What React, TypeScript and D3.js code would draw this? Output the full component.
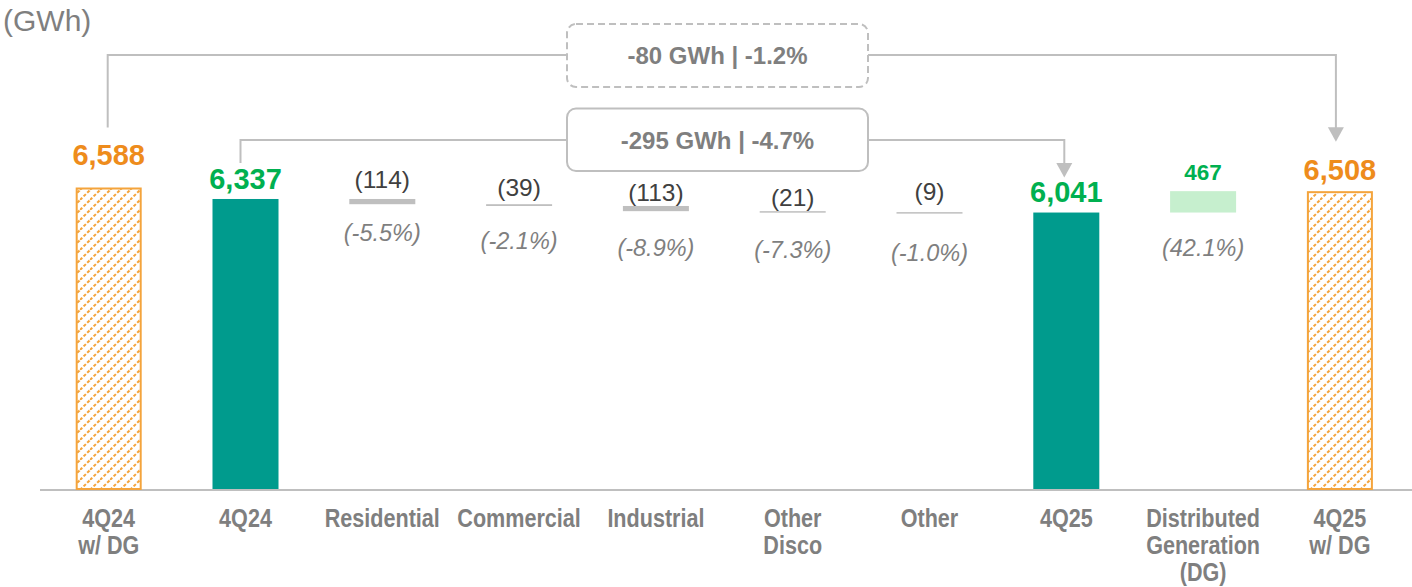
import React from "react";
import * as d3 from "d3";

// Energy bridge, 4Q24 -> 4Q25 (GWh)
const categoryLines: string[][] = [
  ["4Q24", "w/ DG"],
  ["4Q24"],
  ["Residential"],
  ["Commercial"],
  ["Industrial"],
  ["Other", "Disco"],
  ["Other"],
  ["4Q25"],
  ["Distributed", "Generation", "(DG)"],
  ["4Q25", "w/ DG"],
];

// "withDG" = total incl. distributed generation, "total" = billed total,
// "delta" = segment change, "gain" = distributed generation add-on
const barKinds = ["withDG", "total", "delta", "delta", "delta", "delta", "delta", "total", "gain", "withDG"];

const barValues = [6588, 6337, -114, -39, -113, -21, -9, 6041, 467, 6508];

const pctLabels: (string | null)[] = [null, null, "(-5.5%)", "(-2.1%)", "(-8.9%)", "(-7.3%)", "(-1.0%)", null, "(42.1%)", null];

const bridgeTotal = { text: "-295 GWh | -4.7%", from: 1, to: 7 };
const bridgeWithDG = { text: "-80 GWh | -1.2%", from: 0, to: 9 };

// small hand placement of labels (px)
const valueLabelGap = [23, 10, 10.5, 8, 4.5, 5, 12.5, 11, 11.5, 11.5];
const pctLabelGap = [0, 0, 37, 43, 45, 45.5, 47, 0, 43, 0];
const connectorNudge = [-1, -5, 0, 0, 0, 0, 0, -2, 0, -4];

const W = 1412;
const H = 587;
const BASE_Y = 489;

const C = {
  teal: "#009B8D",
  orangeText: "#EE8C1C",
  orange: "#F4A43C",
  green: "#00B050",
  lightGreen: "#C6EFCE",
  delta: "#BFBFBF",
  axis: "#BFBFBF",
  grayText: "#7F7F7F",
  darkText: "#404040",
  connector: "#BFBFBF",
};

const FONT = "'Liberation Sans', Arial, Helvetica, sans-serif";
const NARROW = 0.83;

export default function App() {
  const ids = barValues.map((_, i) => String(i));
  const x = d3
    .scaleBand<string>()
    .domain(ids)
    .range([40.3, 1408.3])
    .paddingInner(0.5175)
    .paddingOuter(0.25875);
  const y = d3.scaleLinear().domain([0, 7000]).range([BASE_Y, BASE_Y - (301.5 / 6588) * 7000]);
  const bw = x.bandwidth();
  const cx = (i: number) => (x(String(i)) as number) + bw / 2;

  // running level for floating bars
  let level = 0;
  const bars = barValues.map((v, i) => {
    const kind = barKinds[i];
    let lo: number, hi: number;
    if (kind === "delta" || kind === "gain") {
      const start = level;
      const end = level + v;
      lo = Math.min(start, end);
      hi = Math.max(start, end);
      level = end;
    } else {
      lo = 0;
      hi = v;
      level = v;
    }
    const yTop = y(hi);
    const yBot = y(lo);
    const h = Math.max(yBot - yTop, 1.5);
    return { i, v, kind, yTop, yBot: yTop + h, h };
  });

  const fmt = d3.format(",");
  const labelText = (v: number, kind: string) => (kind === "delta" ? `(${Math.abs(v)})` : fmt(v));

  const arrowHead = (xTip: number, yTip: number) =>
    `M${xTip - 8},${yTip - 14.5} L${xTip + 8},${yTip - 14.5} L${xTip},${yTip} Z`;

  const boxX0 = 567;
  const boxX1 = 868;
  const boxCx = (boxX0 + boxX1) / 2;

  // outer bridge (with DG)
  const outerY = 55;
  const outerLeftX = cx(bridgeWithDG.from) + connectorNudge[bridgeWithDG.from];
  const outerRightX = cx(bridgeWithDG.to) + connectorNudge[bridgeWithDG.to];
  const outerLeftEnd = bars[bridgeWithDG.from].yTop - valueLabelGap[bridgeWithDG.from] - 37;
  const outerTip = bars[bridgeWithDG.to].yTop - valueLabelGap[bridgeWithDG.to] - 38;

  // inner bridge (without DG)
  const innerY = 140;
  const innerLeftX = cx(bridgeTotal.from) + connectorNudge[bridgeTotal.from];
  const innerRightX = cx(bridgeTotal.to) + connectorNudge[bridgeTotal.to];
  const innerLeftEnd = bars[bridgeTotal.from].yTop - valueLabelGap[bridgeTotal.from] - 26;
  const innerTip = bars[bridgeTotal.to].yTop - valueLabelGap[bridgeTotal.to] - 24;

  return (
    <svg
      width={W}
      height={H}
      viewBox={`0 0 ${W} ${H}`}
      style={{ position: "absolute", left: 0, top: 0, background: "#fff" }}
      fontFamily={FONT}
    >
      <defs>
        <pattern id="hatch" patternUnits="userSpaceOnUse" width={10} height={10}>
          <rect width={10} height={10} fill="#fff" />
          <path
            d="M-2.5,2.5 L2.5,-2.5 M0,10 L10,0 M7.5,12.5 L12.5,7.5"
            stroke={C.orange}
            strokeWidth={2}
            strokeDasharray="3.2 1.9"
          />
        </pattern>
      </defs>

      {/* unit */}
      <text x={3} y={31} fontSize={30} fill={C.grayText}>
        (GWh)
      </text>

      {/* baseline */}
      <line x1={40} x2={W} y1={BASE_Y + 1} y2={BASE_Y + 1} stroke={C.axis} strokeWidth={2} />

      {/* bars */}
      {bars.map((b) => {
        const x0 = x(String(b.i)) as number;
        if (b.kind === "withDG") {
          return (
            <rect
              key={b.i}
              x={x0 + 1}
              y={b.yTop + 1}
              width={bw - 2}
              height={b.h - 1}
              fill="url(#hatch)"
              stroke={C.orange}
              strokeWidth={2}
            />
          );
        }
        const fill = b.kind === "total" ? C.teal : b.kind === "gain" ? C.lightGreen : C.delta;
        return <rect key={b.i} x={x0} y={b.yTop} width={bw} height={b.h} fill={fill} />;
      })}

      {/* value labels */}
      {bars.map((b) => {
        const isDelta = b.kind === "delta";
        const isGain = b.kind === "gain";
        const color = b.kind === "withDG" ? C.orangeText : b.kind === "total" || isGain ? C.green : C.darkText;
        const size = isDelta ? 24.5 : isGain ? 22.5 : 29;
        return (
          <text
            key={b.i}
            x={cx(b.i)}
            y={b.yTop - valueLabelGap[b.i]}
            textAnchor="middle"
            fontSize={size}
            fontWeight={isDelta ? 400 : 700}
            fill={color}
          >
            {labelText(b.v, b.kind)}
          </text>
        );
      })}

      {/* growth rates */}
      {bars.map((b) =>
        pctLabels[b.i] ? (
          <text
            key={b.i}
            x={cx(b.i)}
            y={b.yBot + pctLabelGap[b.i]}
            textAnchor="middle"
            fontSize={23.5}
            fontStyle="italic"
            fill={C.grayText}
          >
            {pctLabels[b.i]}
          </text>
        ) : null
      )}

      {/* category labels (condensed bold, one text per line) */}
      {categoryLines.map((lines, i) =>
        lines.map((ln, j) => (
          <text
            key={`${i}-${j}`}
            transform={`translate(${cx(i)},${527 + j * 27}) scale(${NARROW},1)`}
            textAnchor="middle"
            fontSize={26}
            fontWeight={700}
            fill={C.grayText}
          >
            {ln}
          </text>
        ))
      )}

      {/* bridge connectors */}
      <g fill="none" stroke={C.connector} strokeWidth={2}>
        <path d={`M${outerLeftX},${outerLeftEnd} V${outerY} H${boxX0}`} />
        <path d={`M${boxX1},${outerY} H${outerRightX} V${outerTip - 13}`} />
        <rect x={boxX0} y={24} width={boxX1 - boxX0} height={63} rx={9} strokeDasharray="7 4" />
        <path d={`M${innerLeftX},${innerLeftEnd} V${innerY} H${boxX0}`} />
        <path d={`M${boxX1},${innerY} H${innerRightX} V${innerTip - 13}`} />
        <rect x={boxX0} y={108.5} width={boxX1 - boxX0} height={62.5} rx={9} />
      </g>
      <path d={arrowHead(outerRightX, outerTip)} fill={C.connector} />
      <path d={arrowHead(innerRightX, innerTip)} fill={C.connector} />

      <text x={boxCx} y={63.5} textAnchor="middle" fontSize={24} fontWeight={700} fill={C.grayText}>
        {bridgeWithDG.text}
      </text>
      <text x={boxCx} y={148.5} textAnchor="middle" fontSize={24} fontWeight={700} fill={C.grayText}>
        {bridgeTotal.text}
      </text>
    </svg>
  );
}
